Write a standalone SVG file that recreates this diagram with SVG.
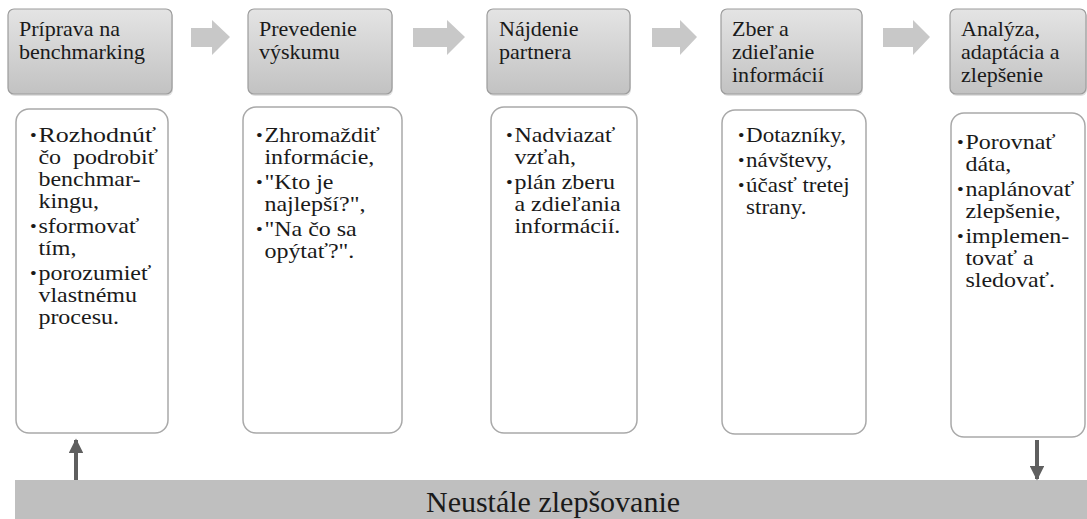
<svg xmlns="http://www.w3.org/2000/svg" width="1087" height="519" viewBox="0 0 1087 519">
  <style>
    .hdr { fill: url(#hdrGrad); stroke: #9c9c9c; stroke-width: 1.2; }
    .hdr-shadow { fill: #000; opacity: 0.12; }
    .body { fill: #ffffff; stroke: #a9a9a9; stroke-width: 1.5; }
    .step { fill: #c8c8c8; }
    .bar { fill: #bfbfbf; }
    .loop { stroke: #5f5f5f; stroke-width: 4; fill: none; }
  </style>
  <defs>
    <linearGradient id="hdrGrad" x1="0" y1="0" x2="0" y2="1">
      <stop offset="0" stop-color="#e4e4e4"/>
      <stop offset="1" stop-color="#c2c2c2"/>
    </linearGradient>
    <marker id="head" viewBox="0 0 10 10" refX="9" refY="5" markerWidth="4.5" markerHeight="3.6" orient="auto" markerUnits="strokeWidth">
      <path d="M0,0 L10,5 L0,10 Z" fill="#5f5f5f"/>
    </marker>
  </defs>

  <g font-family="Liberation Serif, DejaVu Serif, serif" fill="#1a1a1a">

  <!-- step 1 -->
  <g id="step1">
    <rect class="hdr-shadow" x="9" y="11" width="164" height="85" rx="6"/>
    <rect class="hdr" x="8" y="9" width="164" height="85" rx="6"/>
    <text font-size="21" transform="translate(19,0) scale(1.05,1) translate(-19,0)"><tspan x="19" y="36">Príprava na</tspan><tspan x="19" y="59">benchmarking</tspan></text>
    <rect class="body" x="16" y="109" width="152" height="324" rx="13"/>
    <text font-size="20" transform="translate(30,0) scale(1.2,1) translate(-30,0)">
      <tspan x="30" y="141" font-size="16">•</tspan><tspan x="37" y="142" textLength="98" lengthAdjust="spacingAndGlyphs">Rozhodnúť</tspan>
      <tspan x="37" y="164" xml:space="preserve">čo  podrobiť</tspan>
      <tspan x="37" y="186">benchmar-</tspan>
      <tspan x="37" y="208">kingu,</tspan>
      <tspan x="30" y="232" font-size="16">•</tspan><tspan x="37" y="233">sformovať</tspan>
      <tspan x="37" y="255">tím,</tspan>
      <tspan x="30" y="279" font-size="16">•</tspan><tspan x="37" y="280">porozumieť</tspan>
      <tspan x="37" y="302">vlastnému</tspan>
      <tspan x="37" y="324">procesu.</tspan>
    </text>
  </g>

  <!-- step 2 -->
  <g id="step2">
    <rect class="hdr-shadow" x="249" y="11" width="144" height="85" rx="6"/>
    <rect class="hdr" x="248" y="9" width="144" height="85" rx="6"/>
    <text font-size="21" transform="translate(259,0) scale(1.05,1) translate(-259,0)"><tspan x="259" y="36">Prevedenie</tspan><tspan x="259" y="59">výskumu</tspan></text>
    <rect class="body" x="243" y="107" width="159" height="326" rx="13"/>
    <text font-size="20" transform="translate(256,0) scale(1.2,1) translate(-256,0)">
      <tspan x="256" y="141" font-size="16">•</tspan><tspan x="263" y="142">Zhromaždiť</tspan>
      <tspan x="263" y="164">informácie,</tspan>
      <tspan x="256" y="188" font-size="16">•</tspan><tspan x="263" y="189">"Kto je</tspan>
      <tspan x="263" y="211">najlepší?",</tspan>
      <tspan x="256" y="235" font-size="16">•</tspan><tspan x="263" y="236">"Na čo sa</tspan>
      <tspan x="263" y="258">opýtať?".</tspan>
    </text>
  </g>

  <!-- step 3 -->
  <g id="step3">
    <rect class="hdr-shadow" x="488" y="11" width="143" height="85" rx="6"/>
    <rect class="hdr" x="487" y="9" width="143" height="85" rx="6"/>
    <text font-size="21" transform="translate(499,0) scale(1.05,1) translate(-499,0)"><tspan x="499" y="36">Nájdenie</tspan><tspan x="499" y="59">partnera</tspan></text>
    <rect class="body" x="491" y="107" width="146" height="326" rx="13"/>
    <text font-size="20" transform="translate(506,0) scale(1.2,1) translate(-506,0)">
      <tspan x="506" y="141" font-size="16">•</tspan><tspan x="513" y="142">Nadviazať</tspan>
      <tspan x="513" y="164">vzťah,</tspan>
      <tspan x="506" y="188" font-size="16">•</tspan><tspan x="513" y="189">plán zberu</tspan>
      <tspan x="513" y="211">a zdieľania</tspan>
      <tspan x="513" y="233">informácií.</tspan>
    </text>
  </g>

  <!-- step 4 -->
  <g id="step4">
    <rect class="hdr-shadow" x="722" y="11" width="141" height="85" rx="6"/>
    <rect class="hdr" x="721" y="9" width="141" height="85" rx="6"/>
    <text font-size="21" transform="translate(732,0) scale(1.05,1) translate(-732,0)"><tspan x="732" y="36">Zber a</tspan><tspan x="732" y="59">zdieľanie</tspan><tspan x="732" y="82">informácií</tspan></text>
    <rect class="body" x="722" y="110" width="144" height="324" rx="13"/>
    <text font-size="20" transform="translate(738,0) scale(1.15,1) translate(-738,0)">
      <tspan x="738" y="141" font-size="16">•</tspan><tspan x="745" y="142">Dotazníky,</tspan>
      <tspan x="738" y="166" font-size="16">•</tspan><tspan x="745" y="167">návštevy,</tspan>
      <tspan x="738" y="191" font-size="16">•</tspan><tspan x="745" y="192">účasť tretej</tspan>
      <tspan x="745" y="214">strany.</tspan>
    </text>
  </g>

  <!-- step 5 -->
  <g id="step5">
    <rect class="hdr-shadow" x="951" y="11" width="136" height="85" rx="6"/>
    <rect class="hdr" x="950" y="9" width="136" height="85" rx="6"/>
    <text font-size="21" transform="translate(961,0) scale(1.05,1) translate(-961,0)"><tspan x="961" y="36">Analýza,</tspan><tspan x="961" y="59">adaptácia a</tspan><tspan x="961" y="82">zlepšenie</tspan></text>
    <rect class="body" x="951" y="113" width="134" height="324" rx="13"/>
    <text font-size="20" transform="translate(957,0) scale(1.2,1) translate(-957,0)">
      <tspan x="957" y="148" font-size="16">•</tspan><tspan x="964" y="149">Porovnať</tspan>
      <tspan x="964" y="171">dáta,</tspan>
      <tspan x="957" y="195" font-size="16">•</tspan><tspan x="964" y="196">naplánovať</tspan>
      <tspan x="964" y="218">zlepšenie,</tspan>
      <tspan x="957" y="242" font-size="16">•</tspan><tspan x="964" y="243">implemen-</tspan>
      <tspan x="964" y="265">tovať a</tspan>
      <tspan x="964" y="287">sledovať.</tspan>
    </text>
  </g>

  <!-- continuous improvement bar -->
  <g id="improvement">
    <rect class="bar" x="15" y="480" width="1072" height="39"/>
    <text font-size="30" x="553" y="512" text-anchor="middle">Neustále zlepšovanie</text>
  </g>

  </g>

  <!-- connectors -->
  <g id="connectors">
    <path class="step" d="M191,28 H212 V20 L230,37 L212,55 V47 H191 Z"/>
    <path class="step" d="M413,28 H447 V20 L465,37 L447,55 V47 H413 Z"/>
    <path class="step" d="M652,28 H680 V20 L697,37 L680,55 V47 H652 Z"/>
    <path class="step" d="M883,28 H913 V20 L930,37 L913,55 V47 H883 Z"/>
    <line class="loop" x1="76" y1="480" x2="76" y2="440" marker-end="url(#head)"/>
    <line class="loop" x1="1037" y1="440" x2="1037" y2="479" marker-end="url(#head)"/>
  </g>
</svg>
